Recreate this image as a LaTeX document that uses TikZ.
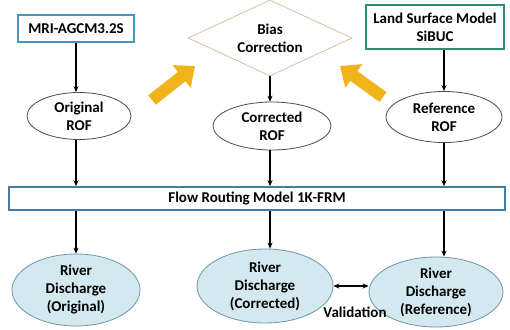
\documentclass[tikz,border=0pt]{standalone}
\usepackage{fontspec}
\setmainfont{Carlito}
\usetikzlibrary{arrows.meta,shapes.geometric}
\definecolor{mriblue}{RGB}{70,150,190}
\definecolor{barblue}{RGB}{70,125,165}
\definecolor{lsmgreen}{RGB}{45,140,105}
\definecolor{biastan}{RGB}{215,192,160}
\definecolor{goldarrow}{RGB}{242,178,25}
\definecolor{rdfill}{RGB}{212,232,240}
\definecolor{rdline}{RGB}{110,150,170}
\begin{document}
\begin{tikzpicture}[x=1pt,y=-1pt,
  every node/.style={font=\fontsize{15}{18}\selectfont\bfseries, align=center, inner sep=0pt},
  srcbox/.style={draw, line width=1.8pt, fill=white},
  rof/.style={ellipse, draw=black!70, line width=0.8pt, fill=white},
  rd/.style={ellipse, draw=rdline, line width=0.8pt, fill=rdfill},
  arr/.style={draw=black, line width=1.2pt, -{Stealth[length=6pt,width=5pt]}},
  darr/.style={draw=black, line width=1.2pt, {Stealth[length=6pt,width=5pt]}-{Stealth[length=6pt,width=5pt]}},
  bigarr/.style={draw=goldarrow, line width=12pt, -{Triangle[length=17pt,width=28pt]}}
]
\useasboundingbox (0,0) rectangle (510,329);
\fill[white] (0,0) rectangle (510,329);

\node[srcbox, draw=mriblue, minimum width=116pt, minimum height=27pt] (mri) at (76,28.5) {MRI-AGCM3.2S};
\node[diamond, draw=biastan, line width=0.8pt, aspect=2.16, minimum width=164pt, minimum height=76pt] (bias) at (270,38) {Bias\\Correction};
\node[srcbox, draw=lsmgreen, minimum width=138pt, minimum height=44pt] (lsm) at (435,27) {Land Surface Model\\SiBUC};

\node[rof, minimum width=104pt, minimum height=47pt] (orof) at (79,116) {Original\\ROF};
\node[rof, minimum width=118pt, minimum height=48pt] (crof) at (272,126) {Corrected\\ROF};
\node[rof, minimum width=116pt, minimum height=51pt] (rrof) at (444,117) {Reference\\ROF};

\node[draw=barblue, line width=1.5pt, fill=white, minimum width=496pt, minimum height=23pt] (frm) at (257,198.5) {Flow Routing Model 1K-FRM};

\node[rd, minimum width=128pt, minimum height=72pt] (rdo) at (76,290) {River\\Discharge\\(Original)};
\node[rd, minimum width=136pt, minimum height=74pt] (rdc) at (265,286) {River\\Discharge\\(Corrected)};
\node[rd, minimum width=134pt, minimum height=70pt] (rdr) at (436,292) {River\\Discharge\\(Reference)};
\node (val) at (355,312) {Validation};

\draw[arr] (mri.south) -- (mri.south |- orof.north);
\draw[arr] (bias.south) -- (bias.south |- crof.north);
\draw[arr] (lsm.south -| rrof.north) -- (rrof.north);

\draw[arr] (mri.south |- orof.south) -- (mri.south |- frm.north);
\draw[arr] (bias.south |- crof.south) -- (bias.south |- frm.north);
\draw[arr] (rrof.south) -- (rrof.south |- frm.north);

\draw[arr] (frm.south -| rdo.north) -- (rdo.north);
\draw[arr] (frm.south -| bias.south) -- (bias.south |- rdc.north);
\draw[arr] (frm.south -| rrof.south) -- (rrof.south |- rdr.north);

\draw[darr] (rdc.east) -- (rdc.east -| rdr.west);

\coordinate (y1a) at (152,100);
\coordinate (y1b) at (195,66);
\coordinate (y2a) at (383,97);
\coordinate (y2b) at (340,66);
\draw[bigarr] (y1a) -- (y1b);
\draw[bigarr] (y2a) -- (y2b);
\end{tikzpicture}
\end{document}
